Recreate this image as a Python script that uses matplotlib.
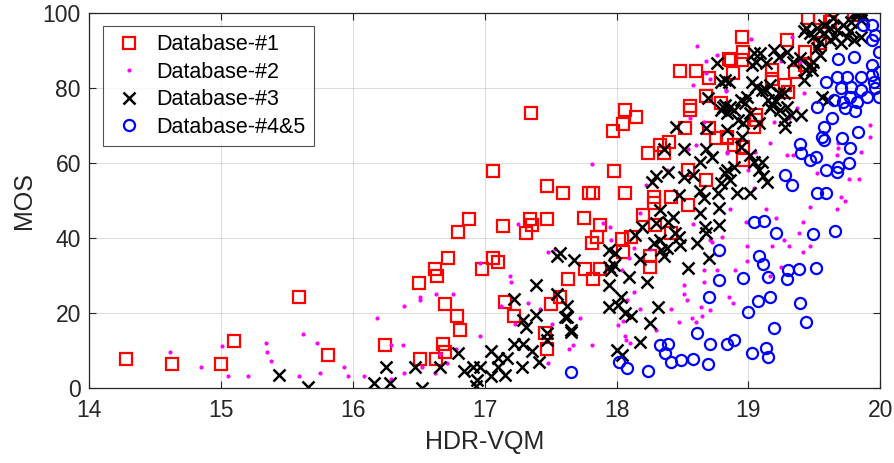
import matplotlib.pyplot as plt

plt.rcParams['font.family'] = ['Liberation Sans', 'DejaVu Sans']

# Database-#1 (red squares)
db1_x = [14.28, 14.63, 15.00, 15.10, 15.59, 15.81,
         17.06, 17.47, 17.59, 16.88, 16.80, 17.14, 17.34, 17.36, 17.31, 17.47,
         16.72, 16.62, 16.64, 16.50, 17.06, 17.10, 16.98, 16.70, 16.79, 16.81,
         16.24, 16.68, 16.70, 16.51, 16.63, 17.15, 17.22, 17.63, 17.50, 17.57,
         17.46, 17.47, 17.35,
         17.75, 17.87, 17.85, 17.81, 17.76, 17.82, 17.87, 18.04, 18.05, 18.11,
         18.20, 18.29, 18.25, 18.25, 18.28, 18.28, 18.41, 18.54, 18.41,
         18.48, 18.60, 18.70, 18.85, 18.68, 18.79, 18.56, 18.56, 18.06, 18.15,
         18.05, 17.97, 18.52, 18.70, 18.75, 18.84, 18.40, 18.33, 18.36, 18.24,
         17.98, 17.79, 17.82, 18.06, 18.68, 18.54,
         18.95, 19.29, 19.45, 19.54, 19.62, 19.80, 18.96, 18.87, 18.95, 18.88,
         19.18, 19.43, 19.54, 19.43, 19.35, 19.30, 19.28, 19.06, 19.04, 19.06,
         18.84, 18.89, 18.96, 18.96, 19.18]
db1_y = [7.7, 6.6, 6.6, 12.6, 24.2, 8.8,
         57.9, 53.9, 51.9, 45.2, 41.5, 43.3, 45.2, 43.4, 41.4, 45.2,
         34.8, 31.8, 29.9, 28.0, 34.7, 33.5, 31.8, 22.4, 19.3, 15.5,
         11.5, 11.7, 9.7, 7.7, 7.7, 23.1, 19.3, 29.0, 22.4, 24.4,
         14.6, 10.6, 73.2,
         45.3, 43.5, 40.4, 38.6, 31.7, 29.0, 31.7, 39.7, 36.4, 40.4,
         46.1, 43.5, 35.1, 32.4, 51.0, 49.3, 51.0, 48.8, 41.3,
         84.6, 84.6, 82.7, 87.6, 77.9, 75.9, 75.2, 74.1, 74.1, 72.1,
         70.4, 68.4, 69.2, 69.4, 66.6, 66.6, 65.5, 64.8, 62.6, 62.6,
         57.9, 52.1, 52.1, 52.1, 55.5, 58.1,
         93.4, 92.6, 98.5, 98.5, 97.6, 99.5, 89.6, 87.4, 87.4, 83.9,
         84.8, 89.5, 92.0, 86.1, 84.3, 79.0, 80.8, 72.8, 69.7, 71.4,
         67.0, 64.8, 64.3, 60.8, 82.3]

# Database-#2 (magenta dots)
db2_x = [14.61, 14.85, 15.01, 15.05, 15.20, 15.34, 15.35, 15.38, 15.59, 15.62,
         15.73, 15.75, 15.93, 15.96,
         16.08, 16.18, 16.39, 16.51, 16.51, 16.63, 16.76, 16.29, 16.38, 16.39,
         16.62, 16.71, 16.52, 16.96, 16.96, 17.19, 17.20, 17.12, 17.23, 17.25,
         17.33, 17.48, 17.53, 17.42, 17.48, 17.51, 17.64, 16.78, 16.29, 16.66,
         18.61, 18.76, 18.68, 18.68, 18.71, 18.58, 18.83, 18.56, 18.66, 18.60,
         18.54, 17.81, 18.84, 18.22, 18.38,
         18.18, 17.90, 17.95, 17.96, 18.09, 18.13, 18.25, 18.04, 18.13, 18.08,
         18.18, 18.05, 18.01, 18.06, 18.07, 18.10, 17.67, 17.81, 17.72, 18.30,
         18.41, 18.47, 18.57, 18.60, 18.51, 18.51, 18.53, 18.66, 18.76, 18.66,
         18.64, 18.71, 18.65, 18.85, 18.58, 18.71, 18.72, 18.80,
         19.02, 19.33, 19.25, 19.39, 18.83, 19.42, 19.19, 19.31, 19.37, 19.16,
         18.84, 19.05, 19.29, 19.34, 19.68, 19.68, 19.67, 19.92, 19.92, 19.85,
         19.52, 19.76, 19.84, 19.00, 19.04, 19.90,
         18.86, 19.13, 19.21, 19.41, 19.38, 19.47, 19.67, 19.70, 19.73, 18.99,
         19.18, 19.31, 19.47, 19.27, 19.41, 18.99, 18.90, 19.16, 19.25, 18.88,
         18.98]
db2_y = [9.7, 5.7, 11.3, 3.3, 3.3, 12.1, 9.7, 7.3, 3.3, 14.5,
         12.1, 4.1, 5.7, 3.3,
         3.3, 18.6, 21.9, 24.4, 23.5, 25.1, 25.1, 11.4, 11.4, 4.2,
         4.2, 6.7, 5.8, 33.3, 13.8, 29.9, 28.3, 21.9, 17.0, 43.7,
         22.6, 36.4, 37.1, 21.0, 6.7, 17.1, 10.4, 10.4, 2.4, 9.1,
         91.2, 88.7, 87.1, 84.0, 82.3, 80.7, 79.2, 71.9, 71.0, 64.8,
         63.7, 59.7, 63.0, 54.1, 58.1,
         46.8, 43.9, 42.9, 39.5, 34.6, 37.3, 37.0, 31.5, 25.7, 23.5,
         21.0, 17.8, 16.9, 13.8, 12.9, 12.0, 11.4, 11.4, 18.6, 15.5,
         21.1, 17.7, 18.6, 17.7, 27.5, 25.0, 23.5, 31.5, 31.5, 28.4,
         21.7, 20.9, 19.3, 24.2, 43.7, 39.5, 38.9, 40.4,
         92.9, 93.6, 87.1, 87.0, 79.4, 78.5, 71.0, 71.9, 74.5, 65.2,
         62.7, 63.0, 62.1, 62.1, 65.2, 63.9, 62.1, 70.1, 67.0, 63.0,
         57.2, 55.7, 55.7, 58.1, 53.2, 96.3,
         47.7, 47.7, 45.3, 44.4, 41.3, 48.4, 47.7, 50.8, 50.0, 37.9,
         37.9, 37.9, 37.9, 39.5, 36.4, 33.9, 31.5, 29.9, 32.2, 22.6,
         44.4]

# Database-#3 (black crosses)
db3_x = [15.44, 15.66,
         17.55, 17.39, 17.22, 17.55, 17.29, 17.31, 17.39, 17.22, 17.29, 17.36,
         17.47, 17.47, 17.41, 17.05, 17.10, 17.17, 17.28, 17.10, 17.05, 17.15,
         16.96, 16.91, 16.94, 16.93, 16.84, 16.80, 16.66, 16.47, 16.52, 16.28,
         16.16, 16.25, 17.62, 17.65, 17.62,
         17.68, 17.94, 17.96, 17.99, 17.94, 18.03, 18.01, 17.94, 18.09, 18.06,
         18.11, 18.23, 18.18, 18.31, 18.25, 18.18, 18.00, 18.04, 18.54, 18.70,
         18.34, 18.36, 18.33, 18.39, 18.44, 18.48, 18.63, 18.67, 18.78, 18.78,
         18.61, 17.57, 17.61, 17.65, 17.94, 17.98, 18.28, 18.33, 18.38, 18.47,
         18.68, 18.19, 18.14, 18.30, 18.43, 18.66, 18.77,
         18.76, 18.82, 18.69, 18.81, 18.84, 18.45, 18.68, 18.36, 18.51, 18.68,
         18.72, 18.63, 18.30, 18.39, 18.27, 18.51, 18.58, 18.63, 18.47, 18.84,
         18.84,
         19.44, 19.52, 19.57, 19.64, 19.62, 19.67, 19.72, 19.80, 19.82, 19.78,
         19.85, 19.75, 19.66, 19.57, 19.54, 19.62, 19.49, 19.42, 19.47, 19.77,
         19.80, 19.85, 19.70, 19.82, 19.87,
         19.04, 19.09, 19.19, 19.29, 19.34, 19.23, 19.13, 19.06, 19.03, 19.39,
         19.44, 19.49, 19.48, 19.54, 19.52, 18.79, 18.85, 19.03, 19.06, 19.10,
         18.99, 18.97, 18.94, 19.16, 19.13, 19.15, 19.20, 19.23, 19.18, 19.16,
         19.24, 19.29, 19.27, 19.32, 19.40, 19.27, 19.28, 19.08, 18.89, 18.86,
         18.82, 18.79, 18.96, 18.92, 19.01, 18.95, 18.94, 19.01, 19.04, 19.08,
         19.10, 18.89, 18.82, 18.86, 18.79, 18.91, 19.01, 19.14, 19.11, 19.56,
         19.60, 19.42, 19.47]
db3_y = [3.5, 0.3,
         35.2, 27.4, 23.9, 25.1, 18.2, 16.2, 19.4, 11.8, 11.8, 9.9,
         14.8, 12.9, 7.1, 9.9, 8.0, 8.0, 5.8, 5.8, 3.3, 3.6,
         5.8, 5.8, 2.2, 0.5, 4.5, 9.3, 5.8, 5.8, 0.0, 1.3,
         1.3, 5.8, 19.1, 15.5, 21.8,
         34.2, 32.4, 31.5, 36.0, 27.5, 24.4, 22.2, 21.7, 29.7, 20.0,
         19.3, 28.4, 34.3, 21.7, 17.3, 12.4, 10.2, 8.9, 32.0, 34.6,
         36.8, 35.1, 47.5, 44.4, 41.3, 38.2, 46.6, 43.0, 43.5, 47.9,
         38.6, 35.9, 19.1, 15.1, 36.8, 32.8, 38.6, 39.5, 37.3, 40.4,
         41.3, 43.0, 40.8, 43.9, 45.7, 50.6, 51.9,
         86.5, 82.1, 77.4, 75.0, 73.2, 69.5, 69.4, 63.7, 63.7, 63.7,
         61.7, 60.3, 56.6, 57.7, 55.0, 56.3, 56.8, 52.4, 51.5, 68.8,
         58.1,
         95.8, 95.8, 96.7, 98.5, 95.8, 95.4, 96.7, 99.8, 99.0, 97.6,
         98.1, 93.6, 93.6, 94.5, 92.3, 92.7, 93.6, 95.0, 94.5, 95.0,
         92.7, 93.6, 91.8, 100.0, 99.4,
         89.2, 89.2, 90.1, 89.6, 87.0, 88.3, 86.5, 87.0, 86.1, 87.9,
         84.7, 87.0, 84.7, 88.7, 90.5, 81.6, 81.6, 81.6, 80.3, 79.4,
         77.6, 75.9, 76.8, 80.8, 79.4, 76.8, 76.8, 78.5, 75.4, 74.5,
         74.1, 75.0, 78.5, 72.8, 72.8, 71.4, 69.7, 70.5, 74.1, 75.0,
         75.4, 74.1, 70.5, 71.4, 73.2, 67.0, 64.3, 62.1, 60.3, 58.1,
         60.3, 59.0, 57.2, 55.5, 54.6, 51.9, 51.9, 55.0, 56.4, 77.6,
         76.8, 82.1, 86.1]

# Database-#4&5 (blue circles)
db45_x = [19.94, 19.87, 19.96, 19.94, 19.99, 19.80, 19.68, 19.94, 19.99, 19.67,
          19.75, 19.85, 19.94, 19.59, 19.95, 19.78, 19.70, 19.85, 19.96, 19.77,
          19.99, 19.90, 19.65, 19.72, 19.82, 19.73, 19.81, 19.52, 19.63, 19.57,
          19.83, 19.56, 19.71, 19.57, 19.77, 19.39, 19.40, 19.47, 19.51, 19.59,
          19.68, 19.76, 19.67, 19.28, 19.33, 19.52, 19.59,
          19.04, 19.12, 19.21, 19.49, 19.66, 19.08, 19.11, 18.96, 19.15, 19.29,
          19.30, 19.38, 19.51, 19.16, 19.07, 19.00, 19.39, 19.44, 19.19, 18.89,
          18.84, 19.03, 19.13, 19.15,
          18.78, 18.78, 18.70, 18.61, 18.71, 18.33, 18.39, 18.37, 18.41, 18.49,
          18.58, 18.69, 18.24, 18.08, 18.02, 17.65]
db45_y = [96.7, 96.7, 94.1, 92.7, 89.6, 88.3, 87.6, 86.1, 84.3, 83.0,
          83.0, 83.0, 83.4, 81.6, 81.6, 80.3, 79.9, 79.4, 79.9, 77.6,
          77.6, 77.6, 76.8, 76.3, 76.3, 74.5, 73.7, 75.0, 71.9, 69.7,
          68.3, 67.0, 66.6, 66.1, 63.9, 65.0, 62.6, 60.8, 61.7, 58.1,
          59.0, 59.9, 57.7, 56.8, 54.1, 51.9, 51.9,
          44.4, 44.6, 41.4, 41.0, 42.0, 35.1, 33.1, 29.3, 29.6, 29.1,
          31.5, 31.8, 32.0, 24.4, 23.3, 20.3, 22.8, 17.7, 16.0, 12.9,
          11.8, 9.3, 10.7, 8.4,
          36.8, 28.8, 24.4, 14.7, 11.8, 11.4, 11.8, 9.3, 7.1, 7.5,
          7.7, 6.5, 4.7, 5.3, 7.1, 4.4]

dark = (0.15, 0.15, 0.15)

fig = plt.figure(figsize=(8.94, 4.63), dpi=100)
ax = fig.add_axes([0.0999, 0.1613, 0.8848, 0.8113])

ax.plot(db1_x, db1_y, 's', color='red', markerfacecolor='none', markersize=8,
        markeredgewidth=1.6, label='Database-#1')
ax.plot(db2_x, db2_y, '.', color='magenta', markersize=4, label='Database-#2')
ax.plot(db3_x, db3_y, 'x', color='black', markersize=8, markeredgewidth=1.8,
        label='Database-#3')
ax.plot(db45_x, db45_y, 'o', color='blue', markerfacecolor='none', markersize=8,
        markeredgewidth=1.6, label='Database-#4&5')

ax.set_xlim(14, 20)
ax.set_ylim(0, 100)
ax.set_xticks(range(14, 21))
ax.set_yticks(range(0, 101, 20))
ax.grid(True, color=dark, alpha=0.15, linewidth=0.8)
ax.set_axisbelow(True)
ax.tick_params(direction='in', length=5, width=0.8, top=True, right=True,
               labelsize=16.5, colors=dark)
ax.tick_params(axis='x', pad=8)
ax.tick_params(axis='y', pad=6)
for s in ax.spines.values():
    s.set_color(dark)
    s.set_linewidth(0.9)

ax.set_xlabel('HDR-VQM', fontsize=18, color=dark)
ax.set_ylabel('MOS', fontsize=18, color=dark)
ax.xaxis.set_label_coords(0.5, -0.11)
ax.yaxis.set_label_coords(-0.067, 0.5)

leg = ax.legend(loc='upper left', fontsize=15.5, frameon=True, fancybox=False,
                edgecolor=dark, borderpad=0.4, labelspacing=0.3,
                handlelength=1.6, handletextpad=0.5, borderaxespad=0,
                bbox_to_anchor=(0.017, 0.965))
leg.get_frame().set_linewidth(0.8)

fig.savefig('out.png', dpi=100)
